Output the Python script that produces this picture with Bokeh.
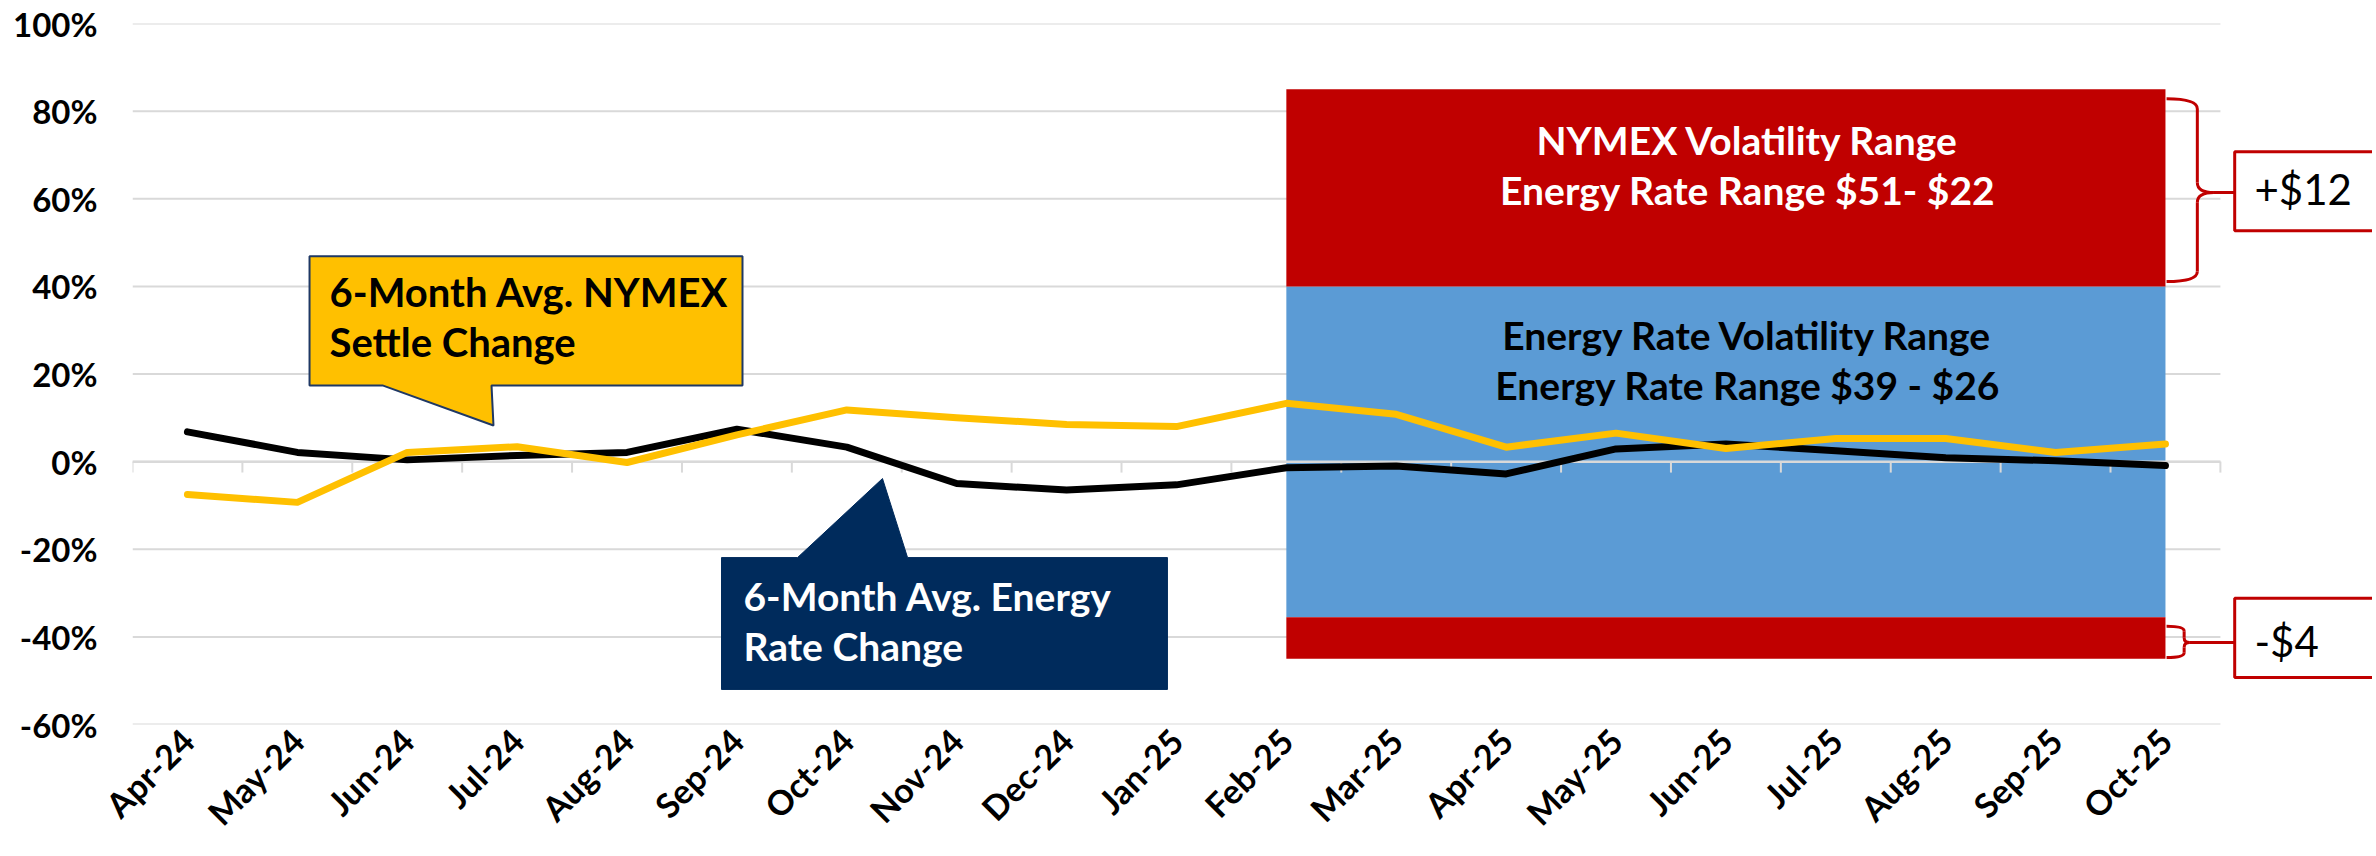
from bokeh.plotting import figure
from bokeh.models import Range1d, FixedTicker
from bokeh.core.properties import value
from bokeh.embed import file_html
from bokeh.resources import INLINE

# ---------------- data ----------------
months = ["Apr-24", "May-24", "Jun-24", "Jul-24", "Aug-24", "Sep-24", "Oct-24",
          "Nov-24", "Dec-24", "Jan-25", "Feb-25", "Mar-25", "Apr-25", "May-25",
          "Jun-25", "Jul-25", "Aug-25", "Sep-25", "Oct-25"]
energy_rate_change = [6.8, 2.1, 0.4, 1.4, 2.1, 7.4, 3.3, -5.0, -6.5, -5.3,
                      -1.4, -1.0, -2.8, 2.9, 4.0, 2.5, 0.9, 0.2, -0.9]
nymex_settle_change = [-7.5, -9.3, 2.1, 3.4, -0.2, 6.1, 11.8, 10.0, 8.5, 8.0,
                       13.3, 10.8, 3.3, 6.5, 3.0, 5.3, 5.3, 2.1, 4.0]
y_ticks = [-60, -40, -20, 0, 20, 40, 60, 80, 100]
y_tick_labels = ["-60%", "-40%", "-20%", "0%", "20%", "40%", "60%", "80%", "100%"]

band_from, band_to = "Feb-25", "Oct-25"
nymex_upper_band = (40, 85)
energy_band = (-35.5, 40)
nymex_lower_band = (-45, -35.5)
red_band_text = ["NYMEX Volatility Range", "Energy Rate Range $51- $22"]
blue_band_text = ["Energy Rate Volatility Range", "Energy Rate Range $39 - $26"]
nymex_callout = ["6-Month Avg. NYMEX", "Settle Change"]
energy_callout = ["6-Month Avg. Energy", "Rate Change"]
upper_delta, lower_delta = "+$12", "-$4"

# ---------------- figure ----------------
FONT = value("Lato")
n = len(months)
x = list(range(n))
px_per_cat = 109.89
fig_w, left_b = 2372, 132
frame_w = fig_w - left_b
p = figure(width=fig_w, height=851, output_backend="svg", toolbar_location=None,
           x_range=Range1d(-0.5, -0.5 + frame_w / px_per_cat), y_range=Range1d(-60, 100),
           min_border_left=left_b, min_border_right=0, min_border_top=23, min_border_bottom=127)
p.outline_line_color = None
p.xgrid.visible = False
p.ygrid.visible = False
p.background_fill_color = "white"

# axes
p.yaxis.ticker = FixedTicker(ticks=y_ticks)
p.yaxis.major_label_overrides = {t: l for t, l in zip(y_ticks, y_tick_labels)}
p.yaxis.axis_line_color = None
p.yaxis.major_tick_line_color = None
p.yaxis.minor_tick_line_color = None
p.yaxis.major_tick_out = 0
p.yaxis.major_label_standoff = 35
p.xaxis.ticker = FixedTicker(ticks=x)
p.xaxis.major_label_overrides = {i: m for i, m in enumerate(months)}
p.xaxis.axis_line_color = None
p.xaxis.major_tick_line_color = None
p.xaxis.minor_tick_line_color = None
p.xaxis.major_tick_out = 0
p.xaxis.major_label_orientation = 0.785398
p.xaxis.major_label_standoff = 10
for ax in (p.xaxis, p.yaxis):
    ax.major_label_text_font = "Lato"
    ax.major_label_text_font_style = "bold"
    ax.major_label_text_font_size = "33px"
    ax.major_label_text_color = "black"
p.xaxis.major_label_text_font_size = "34px"

# gridlines
GRID = "#D9D9D9"
p.segment(x0=[-0.5] * len(y_ticks), x1=[n - 0.5] * len(y_ticks), y0=y_ticks, y1=y_ticks,
          line_color=GRID, line_width=2)

# bands
i0, i1 = months.index(band_from), months.index(band_to)
RED, BLUE = "#C00000", "#5B9BD5"
p.quad(left=[i0], right=[i1], bottom=[energy_band[0]], top=[energy_band[1]],
       fill_color=BLUE, line_color=None)
p.quad(left=[i0, i0], right=[i1, i1],
       bottom=[nymex_upper_band[0], nymex_lower_band[0]],
       top=[nymex_upper_band[1], nymex_lower_band[1]],
       fill_color=RED, line_color=None)

# zero axis line and category ticks
p.segment(x0=[-0.5], x1=[n - 0.5], y0=[0], y1=[0], line_color=GRID, line_width=2.5)
bx = [i - 0.5 for i in range(n + 1)]
p.segment(x0=bx, x1=bx, y0=[0] * len(bx), y1=[-2.5] * len(bx), line_color=GRID, line_width=2)

# band texts
cx = 14.2
p.text(x=[cx, cx], y=[73.5, 61.9], text=red_band_text, text_color="white",
       text_font=FONT, text_font_style="bold", text_font_size=value("39px"),
       text_align="center", text_baseline="middle")
p.text(x=[cx, cx], y=[29.0, 17.4], text=blue_band_text, text_color="black",
       text_font=FONT, text_font_style="bold", text_font_size=value("39px"),
       text_align="center", text_baseline="middle")

# callout: NYMEX (yellow)
L, R, T, B = 1.111, 5.051, 46.9, 17.4
p.patch(x=[L, R, R, 2.767, 2.785, 1.775, L], y=[T, T, B, B, 8.24, B, B],
        fill_color="#FFC000", line_color="#1F3864", line_width=2)
p.text(x=[1.293, 1.293], y=[38.8, 27.4], text=nymex_callout, text_color="black",
       text_font=FONT, text_font_style="bold", text_font_size=value("40px"),
       text_align="left", text_baseline="middle")

# callout: Energy (navy)
L, R, T, B = 4.86, 8.918, -21.9, -52.0
p.patch(x=[L, 5.552, 6.325, 6.553, R, R, L], y=[T, T, -3.86, T, T, B, B],
        fill_color="#002B5C", line_color="#002B5C", line_width=1)
p.text(x=[5.06, 5.06], y=[-30.6, -42.1], text=energy_callout, text_color="white",
       text_font=FONT, text_font_style="bold", text_font_size=value("39px"),
       text_align="left", text_baseline="middle")

# series lines
p.line(x, energy_rate_change, line_color="black", line_width=7, line_cap="round", line_join="round")
p.line(x, nymex_settle_change, line_color="#FFC000", line_width=7, line_cap="round", line_join="round")

# braces
def brace(top, bottom, mid, xa, xs, xt, r):
    p.quadratic(x0=[xa], y0=[top], x1=[xs], y1=[top - r], cx=[xs], cy=[top],
                line_color=RED, line_width=3)
    p.segment(x0=[xs, xs], y0=[top - r, mid - r], x1=[xs, xs], y1=[mid + r, bottom + r],
              line_color=RED, line_width=3)
    p.quadratic(x0=[xs, xt], y0=[mid + r, mid], x1=[xt, xs], y1=[mid, mid - r],
                cx=[xs, xs], cy=[mid, mid], line_color=RED, line_width=3)
    p.quadratic(x0=[xs], y0=[bottom + r], x1=[xa], y1=[bottom], cx=[xs], cy=[bottom],
                line_color=RED, line_width=3)

brace(82.8, 41.1, 61.4, 18.01, 18.29, 18.44, 2.3)
brace(-37.6, -44.7, -41.3, 18.01, 18.17, 18.22, 1.1)
p.segment(x0=[18.44, 18.22], y0=[61.4, -41.3], x1=[18.63, 18.63], y1=[61.4, -41.3],
          line_color=RED, line_width=3)

# delta boxes
p.quad(left=[18.63, 18.63], right=[20.5, 20.5], top=[70.7, -31.2], bottom=[52.7, -49.3],
       fill_color="white", line_color=RED, line_width=3)
p.text(x=[18.81, 18.81], y=[62.3, -41.0], text=[upper_delta, lower_delta], text_color="black",
       text_font=FONT, text_font_size=value("42px"), text_align="left", text_baseline="middle")

open("out.html", "w").write(file_html(p, INLINE))
